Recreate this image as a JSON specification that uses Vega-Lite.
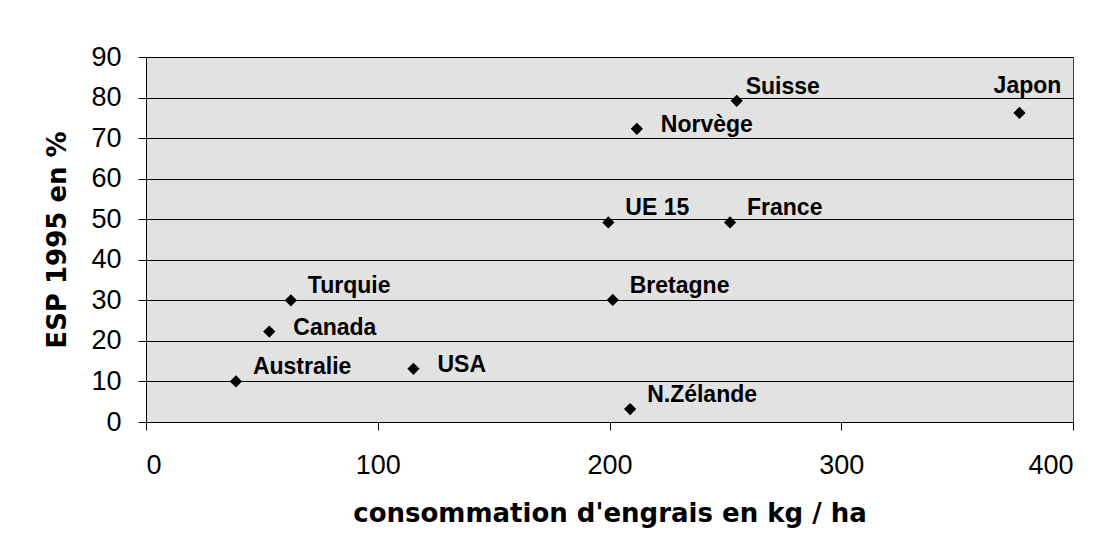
{
  "$schema": "https://vega.github.io/schema/vega-lite/v6.json",
  "autosize": "none",
  "width": 927,
  "height": 365,
  "padding": {"left": 146, "top": 57, "right": 39, "bottom": 136},
  "background": "white",
  "config": {
    "font": "Liberation Sans",
    "view": {"fill": "#e2e2e2", "stroke": "#444", "strokeWidth": 1}
  },
  "data": {
    "values": [
      {"pays": "Australie", "engrais": 38.8, "esp": 10.0},
      {"pays": "Canada", "engrais": 53.2, "esp": 22.3},
      {"pays": "Turquie", "engrais": 62.5, "esp": 30.0},
      {"pays": "USA", "engrais": 115.4, "esp": 13.1},
      {"pays": "Bretagne", "engrais": 201.4, "esp": 30.1},
      {"pays": "N.Zélande", "engrais": 208.9, "esp": 3.2},
      {"pays": "UE 15", "engrais": 199.5, "esp": 49.2},
      {"pays": "France", "engrais": 252.0, "esp": 49.2},
      {"pays": "Norvège", "engrais": 211.8, "esp": 72.3},
      {"pays": "Suisse", "engrais": 254.9, "esp": 79.2},
      {"pays": "Japon", "engrais": 376.9, "esp": 76.2}
    ]
  },
  "encoding": {
    "x": {
      "field": "engrais", "type": "quantitative",
      "scale": {"domain": [0, 400], "nice": false, "zero": true},
      "axis": {
        "title": "consommation d'engrais en kg / ha",
        "values": [0, 100, 200, 300, 400],
        "grid": false,
        "domainColor": "black", "tickColor": "black", "tickSize": 8,
        "labelFontSize": 27, "labelColor": "black", "labelPadding": 22,
        "titleFont": "DejaVu Sans", "titleFontSize": 26, "titleFontWeight": "bold", "titleColor": "black", "titlePadding": 22
      }
    },
    "y": {
      "field": "esp", "type": "quantitative",
      "scale": {"domain": [0, 90], "nice": false},
      "axis": {
        "title": "ESP 1995 en %",
        "values": [0, 10, 20, 30, 40, 50, 60, 70, 80, 90],
        "grid": true, "gridColor": "black", "gridOpacity": 1, "gridWidth": 1,
        "domainColor": "black", "tickColor": "black", "tickSize": 8,
        "labelFontSize": 27, "labelColor": "black", "labelPadding": 17,
        "titleFont": "DejaVu Sans", "titleFontSize": 26, "titleFontWeight": "bold", "titleColor": "black", "titlePadding": 20
      }
    }
  },
  "layer": [
    {
      "mark": {"type": "point", "shape": "diamond", "filled": true, "color": "black", "size": 150, "opacity": 1}
    },
    {
      "transform": [{"filter": {"field": "pays", "oneOf": ["Australie", "Bretagne", "N.Zélande", "UE 15", "France", "Turquie"]}}],
      "mark": {"type": "text", "align": "left", "baseline": "middle", "dx": 17, "dy": -14, "fontSize": 23, "fontWeight": "bold", "color": "black"},
      "encoding": {"text": {"field": "pays"}}
    },
    {
      "transform": [{"filter": {"field": "pays", "oneOf": ["Suisse"]}}],
      "mark": {"type": "text", "align": "left", "baseline": "middle", "dx": 9, "dy": -14, "fontSize": 23, "fontWeight": "bold", "color": "black"},
      "encoding": {"text": {"field": "pays"}}
    },
    {
      "transform": [{"filter": {"field": "pays", "oneOf": ["Canada", "USA", "Norvège"]}}],
      "mark": {"type": "text", "align": "left", "baseline": "middle", "dx": 24, "dy": -4, "fontSize": 23, "fontWeight": "bold", "color": "black"},
      "encoding": {"text": {"field": "pays"}}
    },
    {
      "transform": [{"filter": {"field": "pays", "oneOf": ["Japon"]}}],
      "mark": {"type": "text", "align": "center", "baseline": "middle", "dx": 8, "dy": -27, "fontSize": 23, "fontWeight": "bold", "color": "black"},
      "encoding": {"text": {"field": "pays"}}
    }
  ]
}
